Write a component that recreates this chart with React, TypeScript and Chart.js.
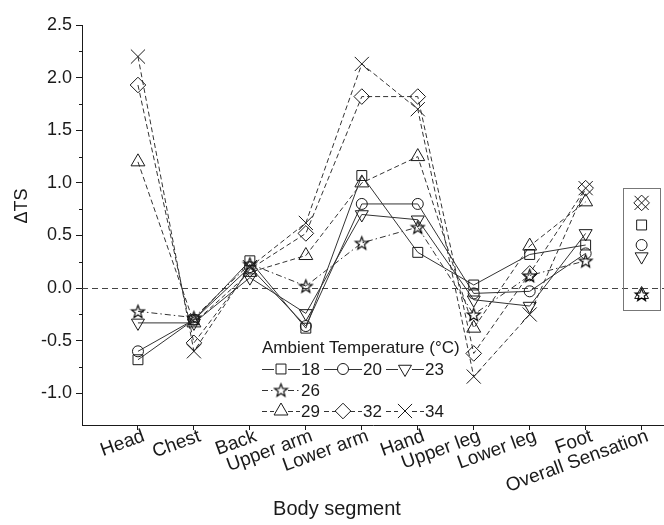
import React, { useEffect, useRef } from 'react';
import { Chart, registerables } from 'chart.js';
import { drawPoint } from 'chart.js/helpers';

Chart.register(...registerables);

// ---------- data ----------
const categories = ['Head', 'Chest', 'Back', 'Upper arm', 'Lower arm', 'Hand', 'Upper leg', 'Lower leg', 'Foot', 'Overall Sensation'];
const yMajorTicks = [-1.0, -0.5, 0.0, 0.5, 1.0, 1.5, 2.0, 2.5];
const temps = ['18', '20', '23', '26', '29', '32', '34'];

const t18 = [-0.68, -0.3, 0.26, -0.38, 1.07, 0.34, 0.03, 0.32, 0.41];
const t20 = [-0.6, -0.3, 0.2, -0.36, 0.8, 0.8, -0.05, -0.03, 0.33];
const t23 = [-0.33, -0.33, 0.1, -0.24, 0.7, 0.65, -0.11, -0.17, 0.52];
const t26 = [-0.22, -0.28, 0.23, 0.02, 0.43, 0.58, -0.25, 0.12, 0.26];
const t29 = [1.2, -0.33, 0.15, 0.31, 1.0, 1.25, -0.38, 0.4, 0.82];
const t32 = [1.93, -0.52, 0.18, 0.52, 1.82, 1.82, -0.62, 0.14, 0.95];
const t34 = [2.2, -0.6, 0.2, 0.62, 2.13, 1.7, -0.84, -0.25, 0.95];

// overall sensation per ambient temperature (same order as temps)
const overallValues = [0.6, 0.41, 0.3, -0.06, -0.06, 0.81, 0.81];

const seriesValues = [t18, t20, t23, t26, t29, t32, t34];

// ---------- styles ----------
const FONT = '"Liberation Sans", Arial, Helvetica, sans-serif';
const INK = '#1a1a1a';
const LINE = '#333333';

function makeStar(r: number): HTMLCanvasElement {
  const size = Math.ceil(r * 2 + 3);
  const c = document.createElement('canvas');
  c.width = size;
  c.height = size;
  const ctx = c.getContext('2d')!;
  const cx = size / 2;
  const cy = size / 2 + r * 0.1;
  ctx.beginPath();
  for (let k = 0; k < 10; k++) {
    const rr = k % 2 === 0 ? r : r * 0.42;
    const a = -Math.PI / 2 + (k * Math.PI) / 5;
    const px = cx + rr * Math.cos(a);
    const py = cy + rr * Math.sin(a);
    if (k === 0) ctx.moveTo(px, py);
    else ctx.lineTo(px, py);
  }
  ctx.closePath();
  ctx.strokeStyle = '#000';
  ctx.lineWidth = 1.15;
  ctx.stroke();
  return c;
}

type SeriesStyle = { pointStyle: any; rotation: number; radius: number; dash: number[] };

function buildStyles(): SeriesStyle[] {
  const star = makeStar(6.8);
  return [
    { pointStyle: 'rect', rotation: 0, radius: 7, dash: [] },
    { pointStyle: 'circle', rotation: 0, radius: 5.5, dash: [] },
    { pointStyle: 'triangle', rotation: 180, radius: 7.5, dash: [] },
    { pointStyle: star, rotation: 0, radius: 7, dash: [6, 3, 1.5, 3] },
    { pointStyle: 'triangle', rotation: 0, radius: 8, dash: [5, 3] },
    { pointStyle: 'rectRot', rotation: 0, radius: 7.8, dash: [5, 3] },
    { pointStyle: 'crossRot', rotation: 0, radius: 10, dash: [5, 3] },
  ];
}

export default function App() {
  const canvasRef = useRef<HTMLCanvasElement | null>(null);

  useEffect(() => {
    const canvas = canvasRef.current;
    if (!canvas) return;
    const styles = buildStyles();

    const datasets: any[] = [];
    seriesValues.forEach((vals, i) => {
      const s = styles[i];
      datasets.push({
        label: temps[i],
        data: vals.map((v, j) => ({ x: j, y: v })),
        showLine: true,
        borderColor: LINE,
        borderWidth: 1,
        borderDash: s.dash,
        pointStyle: s.pointStyle,
        pointRotation: s.rotation,
        pointRadius: s.radius,
        pointBorderColor: INK,
        pointBackgroundColor: 'rgba(0,0,0,0)',
        pointBorderWidth: 1,
      });
    });
    overallValues.forEach((v, i) => {
      const s = styles[i];
      datasets.push({
        label: temps[i] + ' overall',
        data: [{ x: categories.length - 1, y: v }],
        showLine: false,
        pointStyle: s.pointStyle,
        pointRotation: s.rotation,
        pointRadius: s.radius,
        pointBorderColor: INK,
        pointBackgroundColor: 'rgba(0,0,0,0)',
        pointBorderWidth: 1,
      });
    });

    const decor = {
      id: 'decor',
      beforeDatasetsDraw(chart: any) {
        const { ctx, chartArea, scales } = chart;
        const y0 = scales.y.getPixelForValue(0);
        ctx.save();
        ctx.strokeStyle = '#444';
        ctx.lineWidth = 1;
        ctx.setLineDash([6, 4]);
        ctx.beginPath();
        ctx.moveTo(chartArea.left, Math.round(y0) + 0.5);
        ctx.lineTo(chartArea.right, Math.round(y0) + 0.5);
        ctx.stroke();
        ctx.restore();
      },
      afterDraw(chart: any) {
        const { ctx, chartArea, scales } = chart;
        const xs = scales.x;
        const ys = scales.y;
        ctx.save();

        // minor y ticks
        ctx.strokeStyle = INK;
        ctx.lineWidth = 1;
        for (let k = 0; k < yMajorTicks.length - 1; k++) {
          const mid = (yMajorTicks[k] + yMajorTicks[k + 1]) / 2;
          const py = Math.round(ys.getPixelForValue(mid)) + 0.5;
          ctx.beginPath();
          ctx.moveTo(chartArea.left - 3, py);
          ctx.lineTo(chartArea.left, py);
          ctx.stroke();
        }

        // box around overall sensation markers
        const oi = categories.length - 1;
        const bx1 = xs.getPixelForValue(oi - 0.34);
        const bx2 = xs.getPixelForValue(oi + 0.32);
        const by1 = ys.getPixelForValue(Math.max(...overallValues) + 0.14);
        const by2 = ys.getPixelForValue(Math.min(...overallValues) - 0.15);
        ctx.strokeStyle = '#777';
        ctx.strokeRect(Math.round(bx1) + 0.5, Math.round(by1) + 0.5, Math.round(bx2 - bx1), Math.round(by2 - by1));

        // axis titles
        ctx.fillStyle = INK;
        ctx.font = `20px ${FONT}`;
        ctx.textAlign = 'center';
        ctx.textBaseline = 'alphabetic';
        ctx.fillText('Body segment', 337, 515);
        ctx.save();
        ctx.translate(27, 206);
        ctx.rotate(-Math.PI / 2);
        ctx.font = `18px ${FONT}`;
        ctx.fillText('\u0394TS', 0, 0);
        ctx.restore();

        // legend
        ctx.font = `17px ${FONT}`;
        ctx.textAlign = 'left';
        ctx.textBaseline = 'middle';
        ctx.fillText('Ambient Temperature (\u00B0C)', 262, 348);
        const items = [
          { s: 0, x: 262, y: 369 },
          { s: 1, x: 324, y: 369 },
          { s: 2, x: 386, y: 369 },
          { s: 3, x: 262, y: 390 },
          { s: 4, x: 262, y: 411 },
          { s: 5, x: 324, y: 411 },
          { s: 6, x: 386, y: 411 },
        ];
        items.forEach(({ s, x, y }) => {
          const st = styles[s];
          const len = 38;
          const cx = x + len / 2;
          const gap = Math.min(st.radius, 7);
          ctx.strokeStyle = LINE;
          ctx.lineWidth = 1;
          ctx.setLineDash(st.dash);
          ctx.beginPath();
          ctx.moveTo(x, y + 0.5);
          ctx.lineTo(cx - gap, y + 0.5);
          ctx.moveTo(cx + gap, y + 0.5);
          ctx.lineTo(x + len, y + 0.5);
          ctx.stroke();
          ctx.setLineDash([]);
          ctx.strokeStyle = INK;
          ctx.fillStyle = 'rgba(0,0,0,0)';
          drawPoint(ctx, { pointStyle: st.pointStyle, rotation: st.rotation, radius: st.radius, borderWidth: 1 } as any, cx, y);
          ctx.fillStyle = INK;
          ctx.fillText(temps[s], x + len + 1, y + 1);
        });
        ctx.restore();
      },
    };

    const chart = new Chart(canvas, {
      type: 'scatter',
      data: { datasets },
      options: {
        responsive: false,
        animation: false,
        layout: { autoPadding: false, padding: { top: 25, right: 0, left: 0, bottom: 0 } },
        plugins: {
          legend: { display: false },
          tooltip: { enabled: false },
          title: { display: false },
        },
        scales: {
          x: {
            type: 'linear',
            min: -1,
            max: 9.4,
            afterFit: (scale: any) => {
              scale.height = 100;
              scale.paddingLeft = 0;
              scale.paddingRight = 0;
            },
            afterBuildTicks: (scale: any) => {
              scale.ticks = categories.map((_, i) => ({ value: i }));
            },
            grid: {
              display: true,
              drawOnChartArea: false,
              drawTicks: true,
              tickLength: 5,
              tickColor: INK,
              color: INK,
            },
            border: { display: true, color: INK, width: 1 },
            ticks: {
              autoSkip: false,
              minRotation: 20,
              maxRotation: 20,
              padding: -5,
              labelOffset: 6,
              color: INK,
              font: { family: FONT, size: 19 },
              callback: (v: any) => categories[v as number] ?? '',
            },
          },
          y: {
            type: 'linear',
            min: -1.3,
            max: 2.5,
            afterFit: (scale: any) => {
              scale.width = 82;
              scale.paddingTop = 0;
              scale.paddingBottom = 0;
            },
            afterBuildTicks: (scale: any) => {
              scale.ticks = yMajorTicks.map((v) => ({ value: v }));
            },
            grid: {
              display: true,
              drawOnChartArea: false,
              drawTicks: true,
              tickLength: 6,
              tickColor: INK,
              color: INK,
            },
            border: { display: true, color: INK, width: 1 },
            ticks: {
              padding: 4,
              color: INK,
              font: { family: FONT, size: 18 },
              callback: (v: any) => Number(v).toFixed(1),
            },
          },
        },
      },
      plugins: [decor],
    });

    return () => chart.destroy();
  }, []);

  return (
    <div style={{ position: 'fixed', left: 0, top: 0, width: 664, height: 525, background: '#fff' }}>
      <canvas ref={canvasRef} width={664} height={525} style={{ display: 'block' }} />
    </div>
  );
}
